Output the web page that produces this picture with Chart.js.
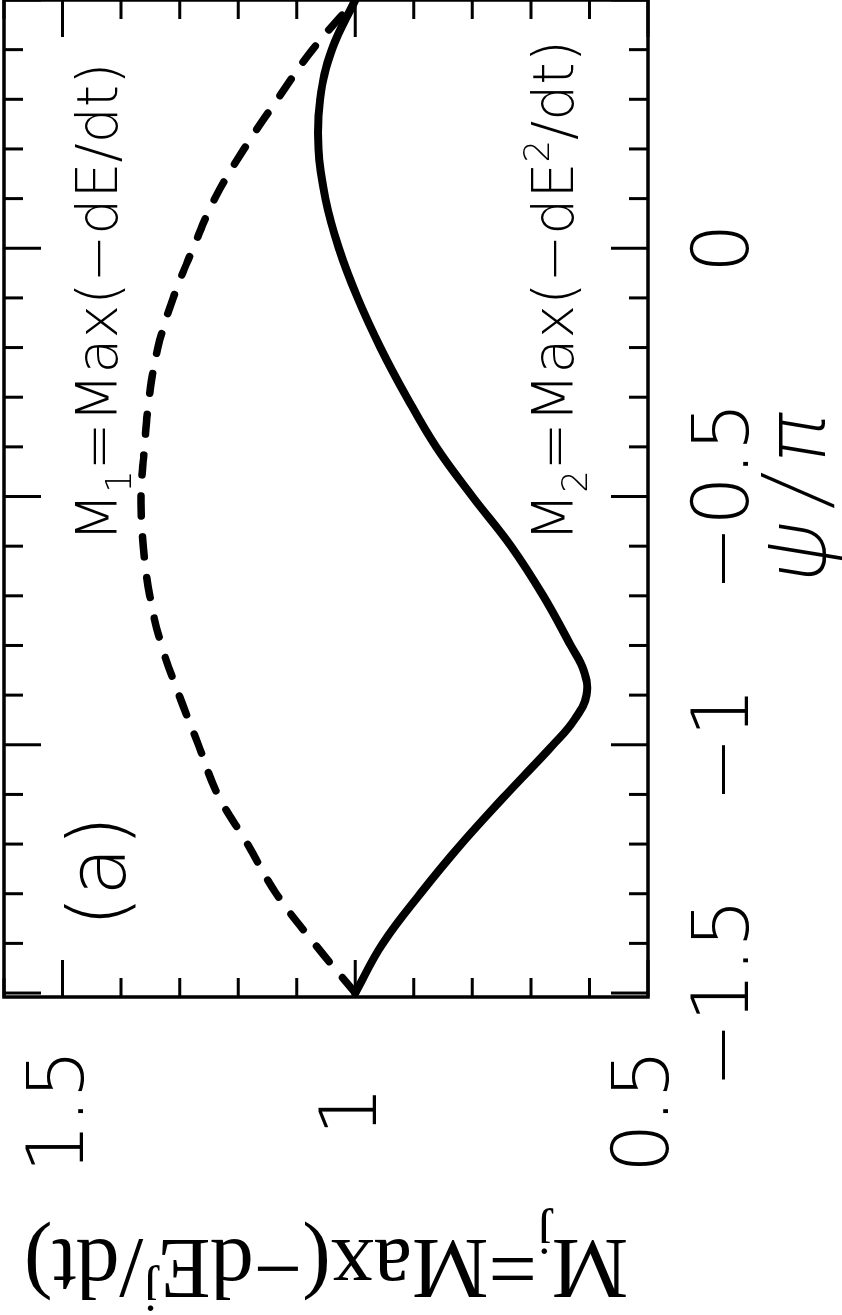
<!DOCTYPE html>
<html>
<head>
<meta charset="utf-8">
<script src="https://cdn.jsdelivr.net/npm/chart.js@4.4.1/dist/chart.umd.min.js"></script>
<style>
  html, body { margin: 0; padding: 0; background: #fff; overflow: hidden; }
  /* figure is stored sideways: draw it upright, then turn the whole canvas */
  #wrap {
    position: absolute; left: 0; top: 0; width: 1315px; height: 842px;
    transform-origin: 0 0; transform: translate(0, 1315px) rotate(-90deg);
  }
</style>
</head>
<body>
<div id="wrap"><canvas id="chart" width="1315" height="842"></canvas></div>
<script>
// psi / pi
const PSI = [-1.5, -1.4, -1.3, -1.2, -1.1, -1.0, -0.9, -0.8, -0.7, -0.6, -0.5,
  -0.4, -0.3, -0.2, -0.1, 0.0, 0.1, 0.2, 0.3, 0.4, 0.5];
// M1 = Max(-dE/dt), dashed
const M1 = [1.000, 1.070, 1.135, 1.184, 1.235, 1.268, 1.301, 1.331, 1.351, 1.362, 1.366,
  1.360, 1.352, 1.337, 1.311, 1.277, 1.240, 1.190, 1.133, 1.073, 1.000];

// M2 = Max(-dE^2/dt), solid (denser round the minimum)
const PSI_2 = [-1.5, -1.4, -1.3, -1.2, -1.1, -1.0, -0.95, -0.9, -0.85, -0.8, -0.7, -0.6, -0.5,
  -0.4, -0.3, -0.2, -0.1, 0.0, 0.1, 0.2, 0.3, 0.4, 0.5];
const M2 = [1.000, 0.953, 0.889, 0.819, 0.742, 0.662, 0.626, 0.605, 0.610, 0.632, 0.679, 0.734, 0.800,
  0.862, 0.912, 0.957, 0.996, 1.028, 1.051, 1.063, 1.060, 1.040, 1.000];

const PSI_TICKS = [-1.5, -1, -0.5, 0];
const M_TICKS = [0.5, 1, 1.5];

const LABEL_M1 = [{ t: 'M' }, { t: '1', sub: true }, { t: '=Max(\u2212dE/dt)' }];
const LABEL_M2 = [{ t: 'M' }, { t: '2', sub: true }, { t: '=Max(\u2212dE' }, { t: '2', sup: true }, { t: '/dt)' }];
const LABEL_Y = [{ t: 'M' }, { t: 'j', sub: true }, { t: '=Max(\u2212dE' }, { t: 'j', sup: true }, { t: '/dt)' }];

const SANS = '"DejaVu Sans"';
const SERIF = '"Liberation Serif"';

const minus = (v) => (v < 0 ? '\u2212' + Math.abs(v) : String(v));

function drawRich(ctx, parts, x, y, size, family, weight, dryRun) {
  let cx = x;
  for (const p of parts) {
    const small = p.sub || p.sup;
    ctx.font = `${weight} ${small ? size * 0.62 : size}px ${family}`;
    const dy = p.sub ? size * 0.24 : p.sup ? -size * 0.42 : 0;
    if (!dryRun) ctx.fillText(p.t, cx, y + dy);
    cx += ctx.measureText(p.t).width;
  }
  return cx - x;
}

const frame = {
  id: 'frame',
  afterDraw(chart) {
    const { ctx, chartArea: a, scales: { x, y } } = chart;
    ctx.save();
    ctx.strokeStyle = '#000';
    ctx.lineWidth = 3;
    ctx.beginPath();
    for (let i = -15; i <= 5; i++) {
      const px = x.getPixelForValue(i / 10);
      const len = i % 5 === 0 ? 37 : 19;
      ctx.moveTo(px, a.bottom); ctx.lineTo(px, a.bottom - len);
      ctx.moveTo(px, a.top); ctx.lineTo(px, a.top + len);
    }
    for (let i = 5; i <= 16; i++) {
      const py = y.getPixelForValue(i / 10);
      const len = i % 5 === 0 ? 37 : 19;
      ctx.moveTo(a.left, py); ctx.lineTo(a.left + len, py);
      ctx.moveTo(a.right, py); ctx.lineTo(a.right - len, py);
    }
    ctx.stroke();
    ctx.lineWidth = 3.5;
    ctx.strokeRect(a.left, a.top, a.width, a.height);

    ctx.fillStyle = '#000';
    ctx.textAlign = 'left';
    ctx.textBaseline = 'alphabetic';
    drawRich(ctx, LABEL_M1, 773, 117, 57, SANS, 200);
    drawRich(ctx, LABEL_M2, 773, 573, 57, SANS, 200);
    ctx.font = `200 80px ${SANS}`;
    ctx.fillText('(a)', 388, 125);

    // y title, reading upwards
    ctx.save();
    ctx.translate(75, (a.top + a.bottom) / 2);
    ctx.rotate(-Math.PI / 2);
    const w = drawRich(ctx, LABEL_Y, 0, 0, 86, SERIF, 'normal', true);
    drawRich(ctx, LABEL_Y, -w / 2, 0, 86, SERIF, 'normal');
    ctx.restore();
    ctx.restore();
  },
};

const tickFont = { family: SANS, size: 78, weight: 200, lineHeight: 1 };

new Chart(document.getElementById('chart'), {
  type: 'line',
  data: {
    datasets: [
      {
        label: 'M1',
        data: PSI.map((p, i) => ({ x: p, y: M1[i] })),
        borderColor: '#000',
        borderWidth: 7.5,
        borderDash: [20, 21],
        borderCapStyle: 'round',
        pointRadius: 0,
        tension: 0.4,
      },
      {
        label: 'M2',
        data: PSI_2.map((p, i) => ({ x: p, y: M2[i] })),
        borderColor: '#000',
        borderWidth: 8,
        borderCapStyle: 'round',
        borderJoinStyle: 'round',
        pointRadius: 0,
        tension: 0.4,
      },
    ],
  },
  options: {
    responsive: false,
    animation: false,
    devicePixelRatio: 1,
    layout: { padding: { top: 4, right: 0, left: 0, bottom: 0 } },
    plugins: { legend: { display: false }, tooltip: { enabled: false } },
    scales: {
      x: {
        type: 'linear',
        min: -1.508,
        max: 0.5,
        grid: { display: false },
        border: { display: false },
        afterBuildTicks: (s) => { s.ticks = PSI_TICKS.map((value) => ({ value })); },
        afterFit: (s) => {
          s.height = 194;
          s.paddingLeft = 0; s.paddingRight = 0; s.paddingTop = 0; s.paddingBottom = 0;
        },
        ticks: {
          autoSkip: false,
          maxRotation: 0,
          padding: 33,
          color: '#000',
          font: tickFont,
          callback: (v) => minus(v),
        },
        title: {
          display: true,
          text: '\u03c8\u2009/\u2009\u03c0',
          color: '#000',
          font: { family: 'Inter', size: 84, style: 'italic', weight: 200, lineHeight: 1 },
          padding: { top: 0, bottom: 0 },
        },
      },
      y: {
        type: 'linear',
        min: 0.5,
        max: 1.6,
        grid: { display: false },
        border: { display: false },
        afterBuildTicks: (s) => { s.ticks = M_TICKS.map((value) => ({ value })); },
        afterFit: (s) => {
          s.width = 318;
          s.paddingLeft = 0; s.paddingRight = 0; s.paddingTop = 0; s.paddingBottom = 0;
        },
        ticks: {
          autoSkip: false,
          padding: 44,
          crossAlign: 'center',
          color: '#000',
          font: tickFont,
          callback: (v) => String(v),
        },
      },
    },
  },
  plugins: [frame],
});
</script>
</body>
</html>
